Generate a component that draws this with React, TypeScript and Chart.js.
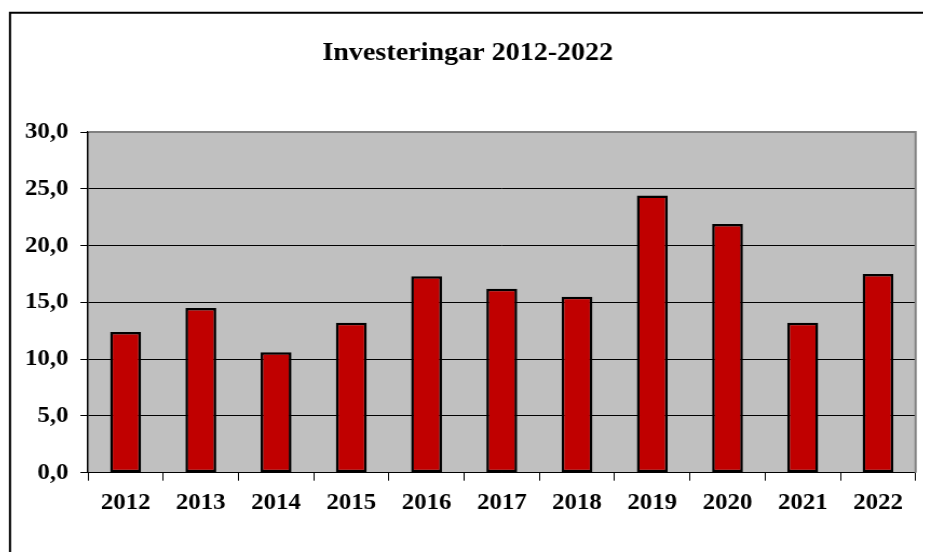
import React, { useEffect, useRef } from "react";
import { Chart, registerables } from "chart.js";

Chart.register(...registerables);

const title = "Investeringar 2012-2022";
const years = ["2012", "2013", "2014", "2015", "2016", "2017", "2018", "2019", "2020", "2021", "2022"];
const investments = [12.4, 14.5, 10.6, 13.2, 17.3, 16.2, 15.5, 24.4, 21.9, 13.2, 17.5];
const yTicks = [0, 5, 10, 15, 20, 25, 30];

// the reference is horizontally stretched; draw at a narrower logical width and stretch with CSS
const S = 1.08;
const DISPLAY_W = 923;
const LH = 544;
const LW = Math.round(DISPLAY_W / S);
const FONT = '"Liberation Serif", "Times New Roman", serif';

const decor = {
  id: "decor",
  beforeDraw(chart: any) {
    const { ctx, chartArea: a } = chart;
    ctx.save();
    ctx.fillStyle = "#ffffff";
    ctx.fillRect(0, 0, chart.width, chart.height);
    ctx.strokeStyle = "#000000";
    ctx.lineWidth = 2;
    ctx.beginPath();
    ctx.moveTo(2 / S, LH + 10);
    ctx.lineTo(2 / S, 4.7);
    ctx.lineTo(LW + 10, 4.7);
    ctx.stroke();
    ctx.fillStyle = "#C0C0C0";
    ctx.fillRect(a.left, a.top, a.right - a.left, a.bottom - a.top);
    ctx.restore();
  },
  beforeDatasetsDraw(chart: any) {
    const { ctx, chartArea: a } = chart;
    ctx.save();
    ctx.strokeStyle = "#808080";
    ctx.lineWidth = 2;
    ctx.beginPath();
    ctx.moveTo(a.left + 1, a.top);
    ctx.lineTo(a.right, a.top);
    ctx.lineTo(a.right, a.bottom);
    ctx.stroke();
    ctx.restore();
  },
  afterDraw(chart: any) {
    const { ctx } = chart;
    ctx.save();
    ctx.font = `bold 26px ${FONT}`;
    ctx.fillStyle = "#000000";
    ctx.textAlign = "center";
    ctx.textBaseline = "alphabetic";
    ctx.fillText(title, (468 - 8) / S, 51.5);
    ctx.restore();
  },
};

export default function App() {
  const ref = useRef<HTMLCanvasElement | null>(null);
  useEffect(() => {
    if (!ref.current) return;
    const chart = new Chart(ref.current, {
      type: "bar",
      data: {
        labels: years,
        datasets: [
          {
            data: investments,
            backgroundColor: "#C00000",
            borderColor: "#000000",
            borderWidth: 2.5,
            borderSkipped: false,
            categoryPercentage: 1,
            barPercentage: 0.41,
          },
        ],
      },
      options: {
        animation: false,
        responsive: false,
        devicePixelRatio: 1,
        events: [],
        layout: { padding: { top: 124, left: 0, right: LW - (916 - 8) / S, bottom: 0 } },
        plugins: { legend: { display: false }, tooltip: { enabled: false }, title: { display: false } },
        scales: {
          x: {
            grid: { display: true, drawOnChartArea: false, drawTicks: true, tickLength: 8, color: "#000000", lineWidth: 1, offset: true },
            border: { display: true, color: "#000000", width: 1 },
            ticks: { font: { family: FONT, size: 23, weight: "bold" }, color: "#000000", padding: 8.5, maxRotation: 0, autoSkip: false },
            afterFit: (s: any) => {
              s.height = LH - 464.7;
            },
          },
          y: {
            min: 0,
            max: 30,
            afterBuildTicks: (s: any) => {
              s.ticks = yTicks.map((v) => ({ value: v }));
            },
            grid: { color: "#000000", lineWidth: 1, tickLength: 7, drawTicks: true },
            border: { display: true, color: "#000000", width: 1.5 },
            ticks: {
              font: { family: FONT, size: 23, weight: "bold" },
              color: "#000000",
              padding: 11,
              callback: (v: any) => Number(v).toFixed(1).replace(".", ","),
            },
            afterFit: (s: any) => {
              s.width = (88 - 8) / S;
            },
          },
        },
      },
      plugins: [decor],
    });
    return () => chart.destroy();
  }, []);
  return (
    <canvas
      ref={ref}
      width={LW}
      height={LH}
      style={{ display: "block", width: `${DISPLAY_W}px`, height: `${LH}px` }}
    />
  );
}
